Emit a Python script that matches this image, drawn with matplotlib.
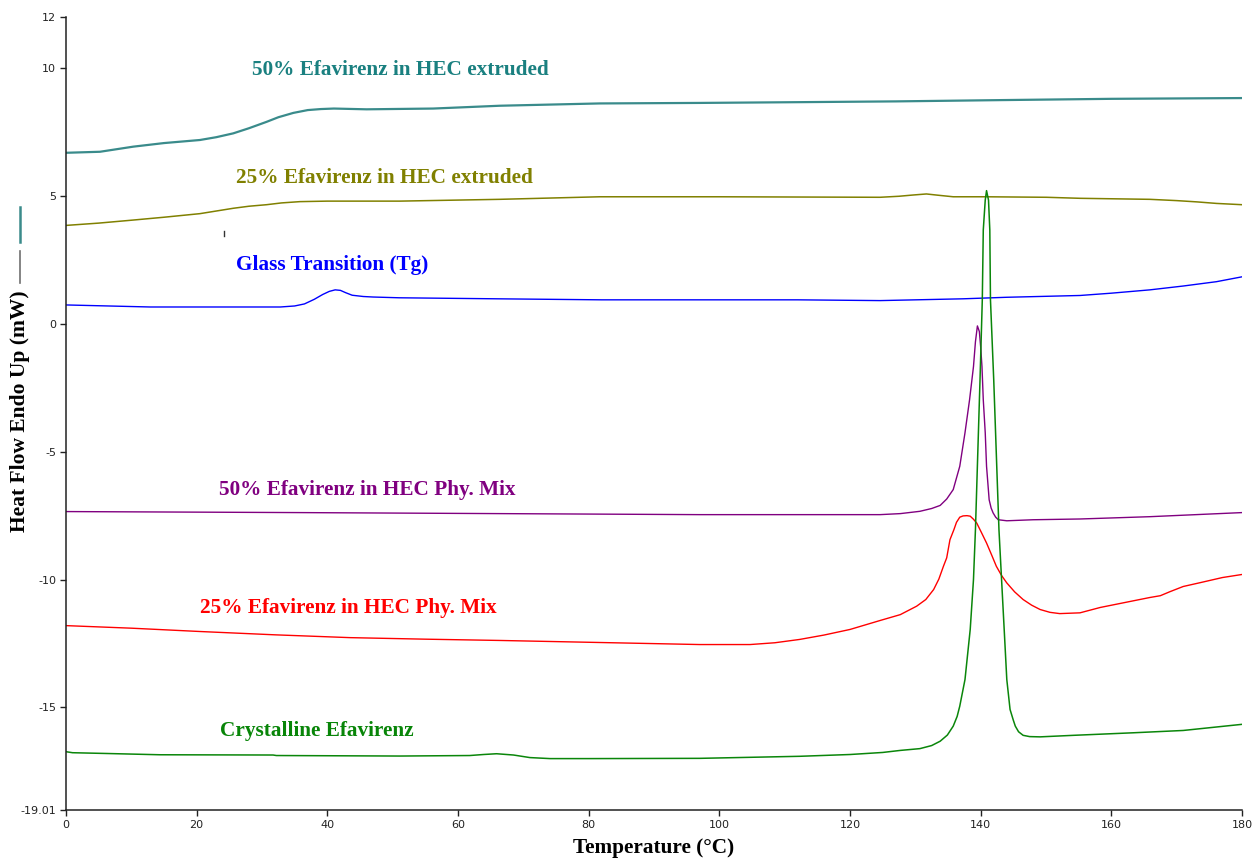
import matplotlib
matplotlib.use("Agg")
import matplotlib.pyplot as plt
from matplotlib.lines import Line2D

# ---- DSC thermograms: temperature (°C) vs heat flow (mW) ----
teal_x = [0, 5.2, 10.3, 15.0, 20.5, 23.0, 25.6, 28.0, 30.7, 32.5, 34.8, 37.0, 39.0, 41.0, 46.0, 56.2, 66.4, 81.7, 97.0, 112.3, 127.0, 143.0, 160.0, 180.0]
teal_y = [6.69, 6.73, 6.93, 7.07, 7.19, 7.30, 7.45, 7.65, 7.90, 8.08, 8.25, 8.36, 8.40, 8.42, 8.39, 8.42, 8.53, 8.62, 8.64, 8.67, 8.70, 8.75, 8.80, 8.83]

olive_x = [0, 5.0, 10.3, 15.0, 20.5, 25.6, 28.0, 30.7, 33.0, 35.8, 40.0, 51.1, 66.4, 81.7, 100.0, 124.6, 127.5, 129.7, 131.7, 133.5, 135.8, 140.9, 150.1, 155.2, 165.9, 170.0, 173.1, 176.1, 180.0]
olive_y = [3.85, 3.94, 4.06, 4.17, 4.31, 4.52, 4.60, 4.66, 4.73, 4.78, 4.80, 4.80, 4.87, 4.97, 4.97, 4.95, 4.99, 5.04, 5.08, 5.03, 4.97, 4.97, 4.95, 4.91, 4.87, 4.82, 4.77, 4.71, 4.66]

blue_x = [0, 12.9, 32.8, 35.0, 36.5, 38.0, 39.3, 40.3, 41.2, 42.0, 42.8, 43.8, 45.5, 47.0, 51.0, 66.0, 82.0, 112.0, 124.6, 137.3, 144.0, 155.2, 160.0, 165.9, 171.0, 176.1, 180.0]
blue_y = [0.74, 0.66, 0.66, 0.70, 0.78, 0.96, 1.15, 1.27, 1.33, 1.31, 1.22, 1.12, 1.07, 1.05, 1.02, 0.98, 0.94, 0.94, 0.91, 0.98, 1.04, 1.11, 1.20, 1.33, 1.48, 1.65, 1.84]

purple_x = [0, 35.8, 66.4, 97.0, 124.6, 127.7, 130.7, 132.5, 133.8, 134.8, 135.8, 136.8, 137.6, 138.3, 138.9, 139.2, 139.5, 139.8, 140.0, 140.2, 140.4, 140.7, 140.9, 141.3, 141.6, 141.9, 142.3, 142.7, 144.0, 148.0, 155.2, 165.9, 180.0]
purple_y = [-7.34, -7.38, -7.42, -7.46, -7.46, -7.42, -7.33, -7.22, -7.10, -6.85, -6.48, -5.57, -4.26, -2.97, -1.67, -0.70, -0.08, -0.30, -0.90, -1.67, -2.97, -4.26, -5.57, -6.88, -7.20, -7.39, -7.56, -7.66, -7.70, -7.66, -7.63, -7.54, -7.38]

red_x = [0, 10.0, 20.5, 32.0, 43.5, 55.0, 66.4, 81.7, 97.0, 104.7, 108.5, 112.3, 116.0, 120.0, 124.6, 127.7, 130.2, 131.6, 132.8, 133.6, 134.3, 134.8, 135.3, 135.9, 136.3, 136.8, 137.3, 137.9, 138.4, 138.9, 139.4, 140.1, 140.9, 141.7, 142.4, 143.2, 144.0, 145.2, 146.5, 147.8, 149.1, 150.6, 152.1, 155.2, 158.3, 162.0, 165.9, 167.5, 169.0, 171.0, 173.6, 177.0, 180.0]
red_y = [-11.80, -11.90, -12.03, -12.16, -12.27, -12.33, -12.38, -12.46, -12.54, -12.54, -12.47, -12.34, -12.17, -11.95, -11.60, -11.37, -11.04, -10.78, -10.39, -9.98, -9.48, -9.15, -8.44, -8.05, -7.76, -7.56, -7.51, -7.50, -7.52, -7.64, -7.79, -8.15, -8.57, -9.05, -9.48, -9.84, -10.13, -10.48, -10.78, -11.00, -11.17, -11.28, -11.33, -11.30, -11.09, -10.90, -10.70, -10.63, -10.47, -10.27, -10.12, -9.92, -9.80]

green_x = [0, 1.0, 6.2, 14.4, 31.7, 32.2, 51.1, 61.8, 63.9, 65.9, 68.5, 71.0, 74.1, 80.2, 97.0, 112.3, 120.0, 125.0, 127.7, 130.7, 132.5, 133.8, 134.9, 135.8, 136.4, 136.8, 137.6, 138.4, 138.9, 139.2, 139.9, 140.25, 140.4, 140.7, 140.9, 141.2, 141.4, 141.5, 142.0, 142.8, 143.2, 143.6, 144.0, 144.5, 145.0, 145.3, 145.8, 146.5, 147.5, 149.1, 154.2, 163.4, 171.0, 180.0]
green_y = [-16.73, -16.77, -16.80, -16.85, -16.86, -16.88, -16.90, -16.88, -16.84, -16.81, -16.86, -16.96, -17.00, -17.00, -16.99, -16.91, -16.84, -16.76, -16.68, -16.61, -16.49, -16.32, -16.08, -15.73, -15.35, -14.95, -13.91, -11.95, -10.00, -8.05, -2.19, 0.94, 3.67, 4.84, 5.21, 4.84, 3.67, 0.94, -2.19, -8.05, -10.00, -11.95, -13.91, -15.08, -15.50, -15.73, -15.95, -16.09, -16.14, -16.15, -16.09, -15.99, -15.90, -15.66]

curve_labels = ["50% Efavirenz in HEC extruded", "25% Efavirenz in HEC extruded",
                "Glass Transition (Tg)", "50% Efavirenz in HEC Phy. Mix",
                "25% Efavirenz in HEC Phy. Mix", "Crystalline Efavirenz"]
label_x = [28.5, 26.0, 26.0, 23.4, 20.5, 23.6]
label_y = [9.92, 5.70, 2.30, -6.48, -11.10, -15.94]

x_ticks = [0, 20, 40, 60, 80, 100, 120, 140, 160, 180]
y_ticks = [12, 10, 5, 0, -5, -10, -15, -19.01]
y_tick_labels = ["12", "10", "5", "0", "-5", "-10", "-15", "-19.01"]

# ---- figure ----
W, H = 1255, 858
fig = plt.figure(figsize=(W / 100, H / 100), dpi=100)
ax = fig.add_axes([66 / W, 1 - 810 / H, (1242 - 66) / W, (810 - 17) / H])

series = [
    (teal_x, teal_y, "#3a8b8b", 1.6, "#1a8080"),
    (olive_x, olive_y, "#808000", 1.1, "#808000"),
    (blue_x, blue_y, "#0000ff", 1.0, "#0000ff"),
    (purple_x, purple_y, "#800080", 1.0, "#800080"),
    (red_x, red_y, "#ff0000", 1.0, "#ff0000"),
    (green_x, green_y, "#0a860a", 1.1, "#088508"),
]
for (xs, ys, c, lw, tc), lab, lx, ly in zip(series, curve_labels, label_x, label_y):
    ax.plot(xs, ys, color=c, lw=lw, solid_joinstyle="round")
    ax.text(lx, ly, lab, color=tc, fontsize=15.3, fontweight="bold",
            family="Liberation Serif", ha="left", va="center")

ax.set_xlim(0, 180)
ax.set_ylim(-19.01, 12)
ax.set_xticks(x_ticks)
ax.set_yticks(y_ticks)
ax.set_yticklabels(y_tick_labels)
ax.tick_params(axis="both", direction="out", length=4, width=1, labelsize=8,
               colors="#222222", pad=3)
for s in ("top", "right"):
    ax.spines[s].set_visible(False)
for s in ("left", "bottom"):
    ax.spines[s].set_linewidth(1.1)
    ax.spines[s].set_color("#222222")

ax.set_xlabel("Temperature (°C)", fontsize=15.3, fontweight="bold",
              family="Liberation Serif", labelpad=6)
fig.text(20 / W, 1 - 411 / H, "Heat Flow Endo Up (mW)", rotation=90,
         fontsize=15.5, fontweight="bold", family="Liberation Serif",
         ha="center", va="center")

# small legend strokes beside the y-axis title
fig.add_artist(Line2D([20 / W, 20 / W], [1 - 283 / H, 1 - 251 / H], color="#707070", lw=1.2))
fig.add_artist(Line2D([20 / W, 20 / W], [1 - 242 / H, 1 - 207 / H], color="#3a8b8b", lw=1.8))
fig.add_artist(Line2D([224 / W, 224 / W], [1 - 236 / H, 1 - 231 / H], color="#333333", lw=1))

fig.savefig("out.png", dpi=100)
